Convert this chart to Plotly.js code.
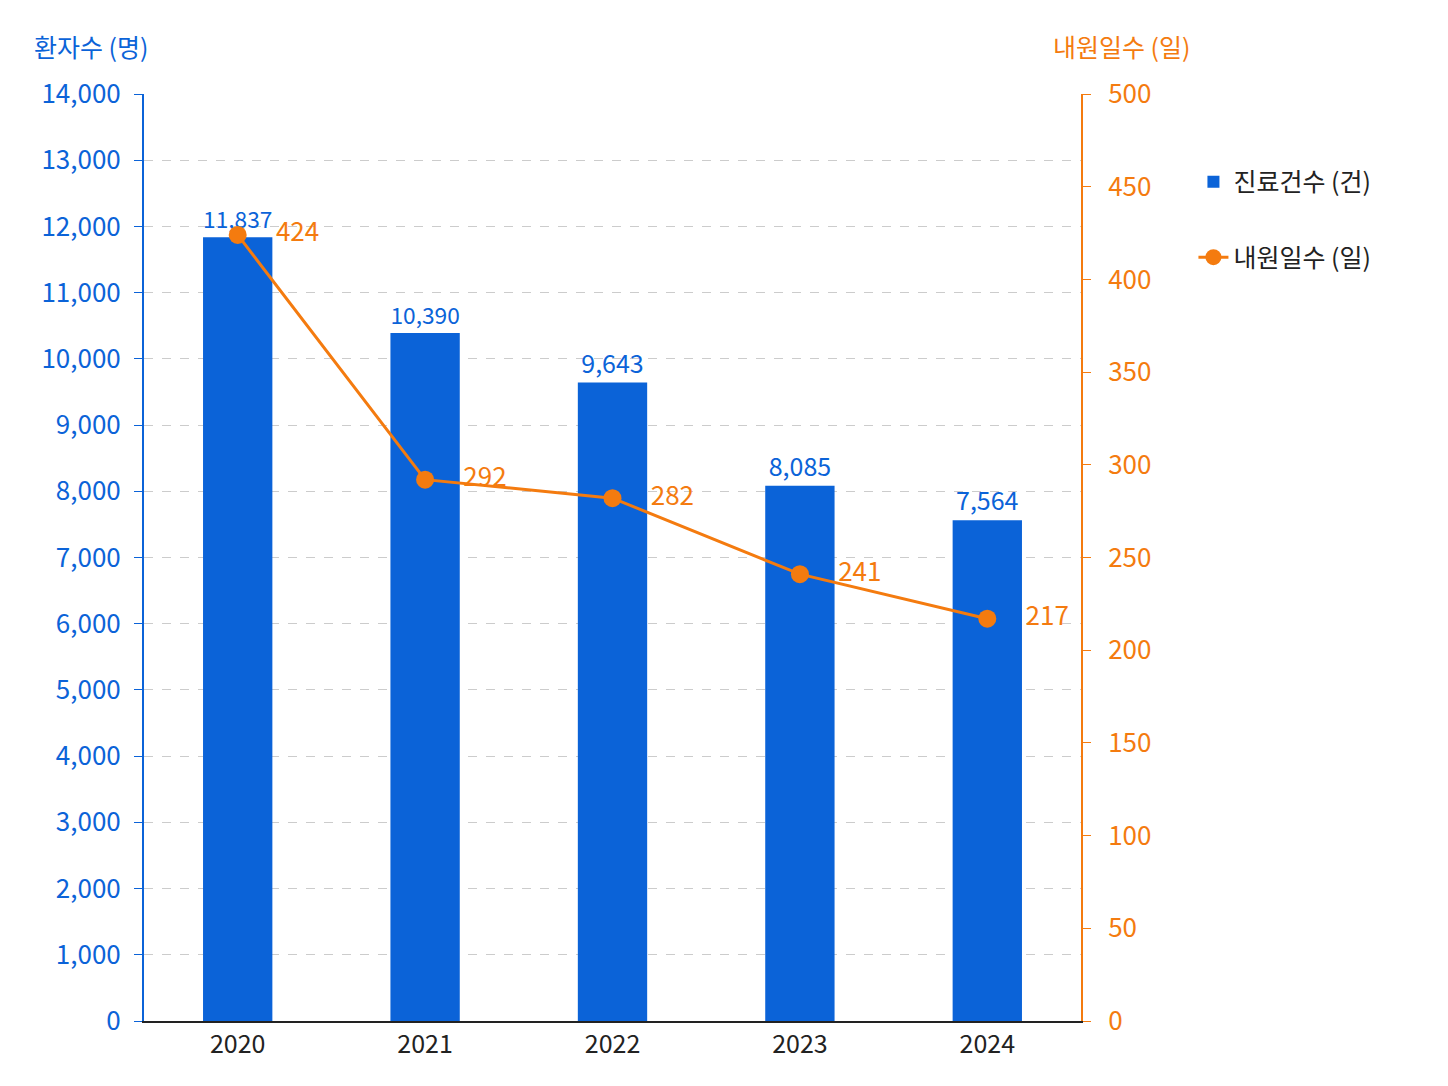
<!DOCTYPE html>
<html>
<head>
<meta charset="utf-8">
<script src="https://cdn.plot.ly/plotly-3.0.1.min.js"></script>
<style>html,body{margin:0;background:#fff}#chart{width:1448px;height:1086px}</style>
</head>
<body>
<div id="chart"></div>
<script>
const years = ['2020', '2021', '2022', '2023', '2024'];
const cases = [11837, 10390, 9643, 8085, 7564];
const days = [424, 292, 282, 241, 217];

const BLUE = '#0b63d8';
const ORANGE = '#f47b0f';
const FONT = 'Noto Sans CJK KR, Noto Sans, sans-serif';

const traces = [
    {
        x: years, y: cases, type: 'bar', name: '진료건수 (건)', legendgroup: 'a',
        marker: { color: BLUE }, width: 0.37,
        text: cases.map(v => v.toLocaleString('en-US')), textposition: 'outside',
        textfont: { color: BLUE, size: 25 }, cliponaxis: false
    },
    {
        x: years, y: days, type: 'scatter', mode: 'lines+markers+text', name: '내원일수 (일)', legendgroup: 'b',
        yaxis: 'y2', line: { color: ORANGE, width: 3 }, marker: { color: ORANGE, size: 18 },
        text: days.map(v => '\u2003' + v), textposition: 'middle right',
        textfont: { color: ORANGE, size: 26 }, cliponaxis: false
    }
];

const layout = {
    width: 1448, height: 1086,
    paper_bgcolor: '#fff', plot_bgcolor: '#fff',
    font: { family: FONT, size: 24, color: '#222' },
    margin: { l: 144, r: 367, t: 94, b: 65 },
    showlegend: true,
    legend: { x: 1.12, y: 0.93, xanchor: 'left', yanchor: 'top', font: { size: 25, color: '#222' }, tracegroupgap: 40 },
    bargap: 0.63,
    xaxis: {
        showgrid: false, showline: true, linecolor: '#222', linewidth: 2,
        tickfont: { size: 25, color: '#222' }, fixedrange: true
    },
    yaxis: {
        range: [0, 14000], dtick: 1000, tickformat: ',d',
        showline: true, linecolor: BLUE, linewidth: 2,
        ticks: 'outside', ticklen: 8, tickcolor: BLUE, ticklabelstandoff: 8,
        tickfont: { size: 26, color: BLUE },
        gridcolor: '#cccccc', griddash: 'dash', zeroline: false, fixedrange: true
    },
    yaxis2: {
        range: [0, 500], dtick: 50, overlaying: 'y', side: 'right',
        showline: true, linecolor: ORANGE, linewidth: 2,
        ticks: 'outside', ticklen: 8, tickcolor: ORANGE, ticklabelstandoff: 12,
        tickfont: { size: 26, color: ORANGE },
        showgrid: false, zeroline: false, fixedrange: true
    },
    annotations: [
        { text: '환자수 (명)', xref: 'paper', yref: 'paper', x: -0.12, y: 1.03, xanchor: 'left', yanchor: 'bottom', showarrow: false, font: { size: 25, color: BLUE } },
        { text: '내원일수 (일)', xref: 'paper', yref: 'paper', x: 1.12, y: 1.03, xanchor: 'right', yanchor: 'bottom', showarrow: false, font: { size: 25, color: ORANGE } }
    ]
};

Plotly.newPlot('chart', traces, layout, { displayModeBar: false, staticPlot: true });
</script>
</body>
</html>
